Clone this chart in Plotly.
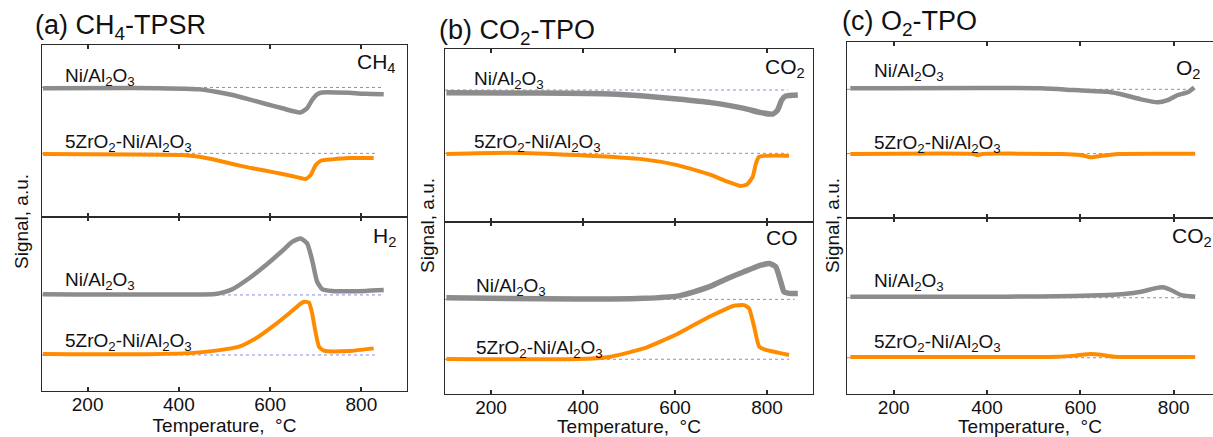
import plotly.graph_objects as go

# ---------------- DATA (arbitrary signal units 0-10 per sub-panel) ----------------
# Panel (a) CH4-TPSR, top: CH4 signal
T_a_ch4_ni = [102, 300, 445, 481, 518, 554, 591, 627, 649, 667, 681, 692, 703, 714, 773, 809, 849]
S_a_ch4_ni = [7.48, 7.50, 7.42, 7.28, 7.09, 6.84, 6.57, 6.32, 6.16, 6.08, 6.32, 6.80, 7.13, 7.24, 7.22, 7.16, 7.13]
T_a_ch4_zr = [102, 408, 445, 481, 518, 554, 591, 627, 663, 678, 689, 700, 711, 736, 773, 827]
S_a_ch4_zr = [3.66, 3.60, 3.50, 3.31, 3.08, 2.87, 2.69, 2.50, 2.29, 2.21, 2.44, 3.02, 3.27, 3.35, 3.43, 3.43]
# Panel (a) bottom: H2 signal
T_a_h2_ni = [102, 480, 503, 518, 554, 591, 627, 649, 667, 681, 692, 703, 714, 736, 809, 849]
S_a_h2_ni = [5.56, 5.58, 5.71, 5.86, 6.48, 7.24, 8.06, 8.58, 8.77, 8.49, 7.53, 6.28, 5.86, 5.75, 5.75, 5.80]
T_a_h2_zr = [102, 335, 445, 481, 532, 569, 605, 642, 663, 674, 685, 692, 700, 707, 718, 773, 827]
S_a_h2_zr = [2.13, 2.11, 2.22, 2.32, 2.55, 3.03, 3.70, 4.47, 4.94, 5.13, 5.08, 4.47, 3.32, 2.55, 2.32, 2.30, 2.45]

# Panel (b) CO2-TPO, top: CO2 signal
T_b_co2_ni = [103, 300, 460, 532, 605, 678, 750, 787, 812, 823, 832, 841, 867]
S_b_co2_ni = [7.47, 7.45, 7.40, 7.28, 7.11, 6.90, 6.57, 6.32, 6.24, 6.47, 7.05, 7.28, 7.34]
T_b_co2_zr = [103, 241, 387, 532, 605, 678, 714, 743, 757, 769, 776, 783, 848]
S_b_co2_zr = [3.93, 4.01, 3.87, 3.62, 3.29, 2.72, 2.33, 2.08, 2.18, 2.62, 3.39, 3.77, 3.83]
# Panel (b) bottom: CO signal
T_b_co_ni = [103, 387, 460, 532, 605, 641, 678, 714, 750, 787, 805, 819, 830, 837, 848, 867]
S_b_co_ni = [5.59, 5.52, 5.52, 5.56, 5.69, 5.94, 6.27, 6.72, 7.11, 7.49, 7.59, 7.40, 6.52, 5.94, 5.85, 5.85]
T_b_co_zr = [103, 387, 460, 532, 605, 641, 678, 714, 728, 750, 761, 772, 783, 794, 848]
S_b_co_zr = [2.03, 2.03, 2.17, 2.65, 3.49, 4.01, 4.53, 4.98, 5.13, 5.17, 4.98, 3.91, 2.75, 2.60, 2.27]

# Panel (c) O2-TPO, top: O2 signal
T_c_o2_ni = [107, 516, 587, 659, 694, 730, 766, 787, 809, 830, 844]
S_c_o2_ni = [7.37, 7.37, 7.27, 7.17, 6.99, 6.74, 6.57, 6.70, 6.99, 7.14, 7.42]
T_c_o2_zr = [107, 300, 370, 380, 390, 560, 600, 623, 650, 680, 846]
S_c_o2_zr = [3.64, 3.66, 3.64, 3.58, 3.64, 3.64, 3.58, 3.45, 3.55, 3.64, 3.65]
# Panel (c) bottom: CO2 signal
T_c_co2_ni = [107, 444, 587, 659, 694, 730, 759, 777, 794, 816, 846]
S_c_co2_ni = [5.53, 5.53, 5.57, 5.62, 5.68, 5.81, 6.00, 6.06, 5.91, 5.62, 5.53]
T_c_co2_zr = [107, 551, 587, 623, 644, 673, 846]
S_c_co2_zr = [2.10, 2.12, 2.18, 2.27, 2.23, 2.12, 2.10]

# Dashed baselines: [Ni level, 5ZrO2 level] and end temperatures
BASE_a_top = [7.53, 3.70]; BASE_a_top_end = [849, 835]
BASE_a_bot = [5.52, 2.07]; BASE_a_bot_end = [845, 835]
BASE_b_top = [7.63, 3.97]; BASE_b_top_end = [845, 845]
BASE_b_bot = [5.50, 2.02]; BASE_b_bot_end = [860, 848]
BASE_c_top = [7.31, 3.66]; BASE_c_top_end = [844, 846]
BASE_c_bot = [5.47, 2.06]; BASE_c_bot_end = [846, 846]

X_TICKS = [200, 400, 600, 800]
X_TITLE = "Temperature,  °C"
Y_TITLE = "Signal, a.u."
NI_LABEL = "Ni/Al<sub>2</sub>O<sub>3</sub>"
ZR_LABEL = "5ZrO<sub>2</sub>-Ni/Al<sub>2</sub>O<sub>3</sub>"
PANEL_TITLES = ["(a) CH<sub>4</sub>-TPSR", "(b) CO<sub>2</sub>-TPO", "(c) O<sub>2</sub>-TPO"]
SPECIES = [["CH<sub>4</sub>", "H<sub>2</sub>"], ["CO<sub>2</sub>", "CO"], ["O<sub>2</sub>", "CO<sub>2</sub>"]]

# ---------------- LAYOUT ----------------
W, H = 1213, 437
FONT = "Liberation Sans, Arial, sans-serif"
GRAY = "#8c8c8c"
ORANGE = "#ff8c00"
DASH = "#8a8ae0"
AXC = "#2a2a2a"
TXT = "#111111"

def px(x):
    return x / W

def py(y):
    return 1 - y / H

# panel geometry in pixels: (left, right, top, divider, bottom, xmax)
panels = [
    (42, 407, 45, 217, 391, 900),
    (445, 813, 49, 222, 394, 900),
    (847, 1213, 42, 218, 394, 100 + (1213 - 847) / 0.4667),
]

fig = go.Figure()

curves = [
    [(T_a_ch4_ni, S_a_ch4_ni, T_a_ch4_zr, S_a_ch4_zr, BASE_a_top, BASE_a_top_end),
     (T_a_h2_ni, S_a_h2_ni, T_a_h2_zr, S_a_h2_zr, BASE_a_bot, BASE_a_bot_end)],
    [(T_b_co2_ni, S_b_co2_ni, T_b_co2_zr, S_b_co2_zr, BASE_b_top, BASE_b_top_end),
     (T_b_co_ni, S_b_co_ni, T_b_co_zr, S_b_co_zr, BASE_b_bot, BASE_b_bot_end)],
    [(T_c_o2_ni, S_c_o2_ni, T_c_o2_zr, S_c_o2_zr, BASE_c_top, BASE_c_top_end),
     (T_c_co2_ni, S_c_co2_ni, T_c_co2_zr, S_c_co2_zr, BASE_c_bot, BASE_c_bot_end)],
]
gray_w = [4.5, 5.5, 4.5]

# label positions (T, value) per sub-panel for Ni and Zr
label_pos = [
    [((145, 8.13), (145, 4.30)), ((145, 6.32), (145, 2.83))],
    [((158, 8.21), (158, 4.55)), ((162, 6.20), (162, 2.60))],
    [((153, 8.31), (153, 4.20)), ((153, 6.38), (153, 2.88))],
]
species_pos = [
    [(398, 63, "right"), (398, 237, "right")],
    [(807, 68, "right"), (800, 237, "right")],
    [(1203, 69, "right"), (1170, 237, "left")],
]
title_pos = [(33, 27), (437, 32), (840, 23)]
ytitle_pos = [(21, 222), (427, 226), (832, 226)]

annotations = []
idx = 0
for p, (L, R, T, D, B, xmax) in enumerate(panels):
    for s in range(2):
        idx += 1
        xa = "x" if idx == 1 else f"x{idx}"
        ya = "y" if idx == 1 else f"y{idx}"
        xkey = "xaxis" if idx == 1 else f"xaxis{idx}"
        ykey = "yaxis" if idx == 1 else f"yaxis{idx}"
        top, bot = (T, D) if s == 0 else (D, B)
        Tn, Sn, Tz, Sz, base, base_end = curves[p][s]
        # baselines
        for lvl, te in zip(base, base_end):
            fig.add_trace(go.Scatter(x=[100, te], y=[lvl, lvl], mode="lines",
                                     line=dict(color=DASH, width=1, dash="dot"),
                                     xaxis=xa, yaxis=ya, showlegend=False, hoverinfo="skip"))
        fig.add_trace(go.Scatter(x=Tn, y=Sn, mode="lines",
                                 line=dict(color=GRAY, width=gray_w[p], shape="spline", smoothing=0.5),
                                 xaxis=xa, yaxis=ya, showlegend=False))
        fig.add_trace(go.Scatter(x=Tz, y=Sz, mode="lines",
                                 line=dict(color=ORANGE, width=4, shape="spline", smoothing=0.5),
                                 xaxis=xa, yaxis=ya, showlegend=False))
        fig.layout[xkey] = dict(
            domain=[px(L), min(1.0, px(R))], range=[100, xmax], anchor=ya,
            tickvals=X_TICKS, ticks="inside", ticklen=4, tickwidth=1.5, tickcolor=AXC,
            showline=True, linecolor=AXC, linewidth=1.3, mirror="ticks",
            showgrid=False, zeroline=False, showticklabels=(s == 1),
            ticklabelstandoff=-4,
            tickfont=dict(family=FONT, size=19, color=TXT),
            title=dict(text=X_TITLE if s == 1 else "", font=dict(family=FONT, size=19, color=TXT), standoff=3),
        )
        fig.layout[ykey] = dict(
            domain=[py(bot), py(top)], range=[0, 10], anchor=xa,
            showticklabels=False, ticks="", showgrid=False, zeroline=False,
            showline=True, linecolor=AXC, linewidth=1.3, mirror=(p != 2),
        )
        (tn, vn), (tz, vz) = label_pos[p][s]
        annotations.append(dict(x=tn, y=vn, xref=xa, yref=ya, text=NI_LABEL, showarrow=False,
                                xanchor="left", yanchor="middle", font=dict(family=FONT, size=19, color=TXT)))
        annotations.append(dict(x=tz, y=vz, xref=xa, yref=ya, text=ZR_LABEL, showarrow=False,
                                xanchor="left", yanchor="middle", font=dict(family=FONT, size=19, color=TXT)))
        sx, sy, anc = species_pos[p][s]
        annotations.append(dict(x=px(sx), y=py(sy), xref="paper", yref="paper", text=SPECIES[p][s],
                                showarrow=False, xanchor=anc, yanchor="middle",
                                font=dict(family=FONT, size=21, color=TXT)))
    tx, ty = title_pos[p]
    annotations.append(dict(x=px(tx), y=py(ty), xref="paper", yref="paper", text=PANEL_TITLES[p],
                            showarrow=False, xanchor="left", yanchor="middle",
                            font=dict(family=FONT, size=27, color=TXT)))
    yx, yy = ytitle_pos[p]
    annotations.append(dict(x=px(yx), y=py(yy), xref="paper", yref="paper", text=Y_TITLE,
                            showarrow=False, textangle=-90, xanchor="center", yanchor="middle",
                            font=dict(family=FONT, size=19, color=TXT)))

fig.update_layout(width=W, height=H, margin=dict(l=0, r=0, t=0, b=0),
                  paper_bgcolor="white", plot_bgcolor="white", annotations=annotations,
                  font=dict(family=FONT))
fig.write_html("out.html")
